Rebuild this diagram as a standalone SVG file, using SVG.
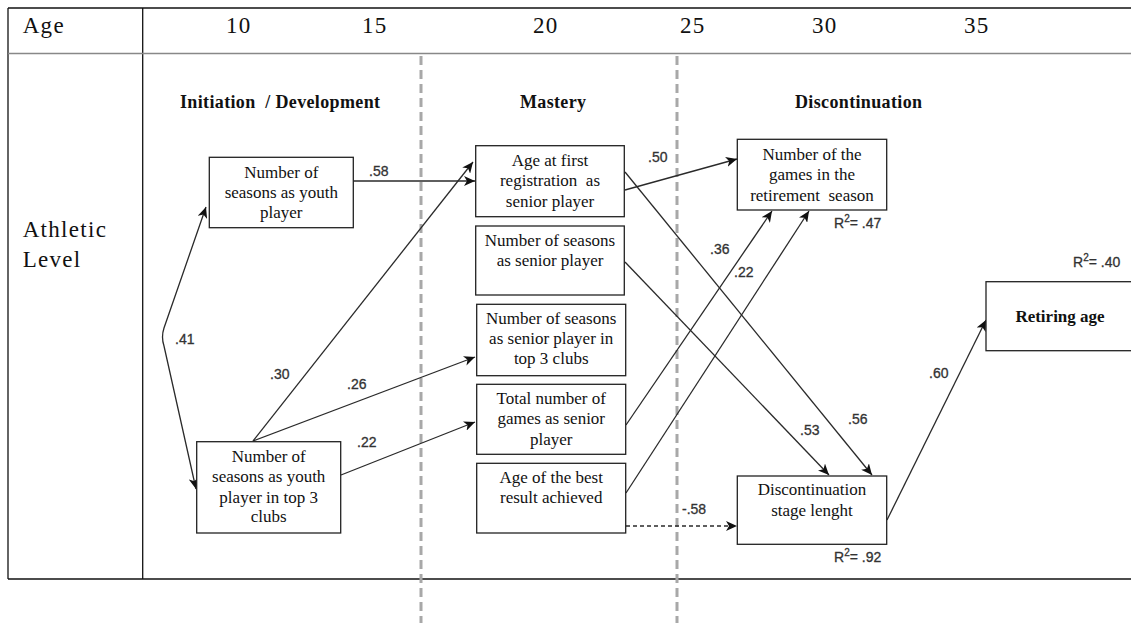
<svg xmlns="http://www.w3.org/2000/svg" width="1131" height="623" viewBox="0 0 1131 623">
<style>
.frame{stroke:#111;stroke-width:1.3;fill:none}
.div{stroke:#888;stroke-width:1.5;fill:none}
.stage{stroke:#a8a8a8;stroke-width:3;stroke-dasharray:9 5;fill:none}
.hd{font-family:"Liberation Serif","Times New Roman",serif;font-size:23px;fill:#111;letter-spacing:1.3px}
.ph{font-family:"Liberation Serif","Times New Roman",serif;font-size:18px;font-weight:bold;fill:#111}
.box{fill:#fff;stroke:#222;stroke-width:1.3}
.bt{font-family:"Liberation Serif","Times New Roman",serif;font-size:17px;fill:#111;text-anchor:middle}
.btb{font-family:"Liberation Serif","Times New Roman",serif;font-size:17px;font-weight:bold;fill:#111;text-anchor:middle}
.lb{font-family:"Liberation Sans",Arial,sans-serif;font-size:14px;fill:#333;stroke:#333;stroke-width:0.3}
.r2{font-family:"Liberation Sans",Arial,sans-serif;font-size:14px;fill:#333;stroke:#333;stroke-width:0.3}
.c{stroke:#2a2a2a;stroke-width:1.3;fill:none;marker-end:url(#ah)}
.cd{stroke:#2a2a2a;stroke-width:1.3;fill:none;stroke-dasharray:4 3;marker-end:url(#ah)}
</style>
<defs>
<marker id="ah" markerUnits="userSpaceOnUse" markerWidth="12" markerHeight="10" refX="11" refY="5" orient="auto-start-reverse">
<path d="M0,0 L11,5 L0,10 L3,5 Z" fill="#111"/>
</marker>
</defs>
<rect width="1131" height="623" fill="#fff"/>
<g id="table">
<line class="frame" x1="8" y1="8" x2="1131" y2="8"/>
<line class="frame" x1="8" y1="8" x2="8" y2="579"/>
<line class="frame" x1="142.7" y1="8" x2="142.7" y2="579"/>
<line class="div" x1="8" y1="53.5" x2="1131" y2="53.5"/>
<line class="frame" x1="8" y1="579" x2="1131" y2="579"/>
<text class="hd" x="22.7" y="33">Age</text>
<text class="hd" x="226" y="33" letter-spacing="0">10</text>
<text class="hd" x="362" y="33" letter-spacing="0">15</text>
<text class="hd" x="533" y="33" letter-spacing="0">20</text>
<text class="hd" x="680" y="33" letter-spacing="0">25</text>
<text class="hd" x="812" y="33" letter-spacing="0">30</text>
<text class="hd" x="964" y="33" letter-spacing="0">35</text>
<text class="hd" x="22.7" y="237">Athletic</text>
<text class="hd" x="22.7" y="267">Level</text>
</g>
<g id="stages">
<line class="stage" x1="421" y1="56" x2="421" y2="623"/>
<line class="stage" x1="677" y1="56" x2="677" y2="623"/>
<text class="ph" x="180" y="108" textLength="200" lengthAdjust="spacing" xml:space="preserve">Initiation  / Development</text>
<text class="ph" x="520" y="108" textLength="66" lengthAdjust="spacing">Mastery</text>
<text class="ph" x="795" y="108" textLength="127" lengthAdjust="spacing">Discontinuation</text>
</g>
<g id="connectors">
<path class="c" d="M196,489 L164,346 Q161,337 164,328 L206,207" marker-start="url(#ah)"/>
<path class="c" d="M353,181 L475,181"/>
<path class="c" d="M253,441 L473,162"/>
<path class="c" d="M253,441 L475,357"/>
<path class="c" d="M341,475 L475,422"/>
<path class="c" d="M625,190 L737,159"/>
<path class="c" d="M625,172 L872,475"/>
<path class="c" d="M625,262 L829,475"/>
<path class="c" d="M626,425 L772,211"/>
<path class="c" d="M626,493 L809,211"/>
<path class="cd" d="M626,526 L737,526"/>
<path class="c" d="M887,520 L986,320"/>
<text class="lb" x="369" y="176">.58</text>
<text class="lb" x="175" y="344">.41</text>
<text class="lb" x="270" y="379">.30</text>
<text class="lb" x="347" y="389">.26</text>
<text class="lb" x="357" y="447">.22</text>
<text class="lb" x="648" y="162">.50</text>
<text class="lb" x="710" y="254">.36</text>
<text class="lb" x="734" y="277">.22</text>
<text class="lb" x="800" y="435">.53</text>
<text class="lb" x="848" y="424">.56</text>
<text class="lb" x="929" y="378">.60</text>
<text class="lb" x="682" y="514">-.58</text>
</g>
<g id="n-youth-seasons">
<rect class="box" x="209.3" y="157.3" width="144" height="70.4"/>
<text class="bt" x="281.3" y="178">Number of</text>
<text class="bt" x="281.3" y="198">seasons as youth</text>
<text class="bt" x="281.3" y="218">player</text>
</g>
<g id="n-youth-top3">
<rect class="box" x="196.7" y="441.7" width="144" height="91.3"/>
<text class="bt" x="268.7" y="462">Number of</text>
<text class="bt" x="268.7" y="482">seasons as youth</text>
<text class="bt" x="268.7" y="503">player in top 3</text>
<text class="bt" x="268.7" y="522">clubs</text>
</g>
<g id="n-first-registration">
<rect class="box" x="475.7" y="145.7" width="148.6" height="71"/>
<text class="bt" x="550" y="166">Age at first</text>
<text class="bt" x="550" y="186" xml:space="preserve">registration  as</text>
<text class="bt" x="550" y="207">senior player</text>
</g>
<g id="n-senior-seasons">
<rect class="box" x="475.7" y="226" width="148.6" height="69"/>
<text class="bt" x="550" y="246">Number of seasons</text>
<text class="bt" x="550" y="266">as senior player</text>
</g>
<g id="n-senior-top3">
<rect class="box" x="476.7" y="304.3" width="149" height="71.4"/>
<text class="bt" x="551.2" y="324.3">Number of seasons</text>
<text class="bt" x="551.2" y="344.3">as senior player in</text>
<text class="bt" x="551.2" y="364.3">top 3 clubs</text>
</g>
<g id="n-total-games">
<rect class="box" x="476.7" y="384.3" width="149" height="70"/>
<text class="bt" x="551.2" y="404.3">Total number of</text>
<text class="bt" x="551.2" y="424.3">games as senior</text>
<text class="bt" x="551.2" y="445">player</text>
</g>
<g id="n-best-result">
<rect class="box" x="476.7" y="463.3" width="149" height="69.7"/>
<text class="bt" x="551.2" y="483.3">Age of the best</text>
<text class="bt" x="551.2" y="503">result achieved</text>
</g>
<g id="n-retirement-games">
<rect class="box" x="737.3" y="139.3" width="149.4" height="70.7"/>
<text class="bt" x="812" y="159.5">Number of the</text>
<text class="bt" x="812" y="180">games in the</text>
<text class="bt" x="812" y="200.7" xml:space="preserve">retirement  season</text>
<text class="r2" x="834" y="228">R<tspan dy="-6" font-size="10">2</tspan><tspan dy="6">= .47</tspan></text>
</g>
<g id="n-discontinuation-length">
<rect class="box" x="737.3" y="476" width="149.4" height="68.3"/>
<text class="bt" x="812" y="495">Discontinuation</text>
<text class="bt" x="812" y="515.7">stage lenght</text>
<text class="r2" x="834" y="562">R<tspan dy="-6" font-size="10">2</tspan><tspan dy="6">= .92</tspan></text>
</g>
<g id="n-retiring-age">
<rect class="box" x="986" y="281.7" width="148" height="69"/>
<text class="btb" x="1060" y="322">Retiring age</text>
<text class="r2" x="1073" y="267">R<tspan dy="-6" font-size="10">2</tspan><tspan dy="6">= .40</tspan></text>
</g>
</svg>
